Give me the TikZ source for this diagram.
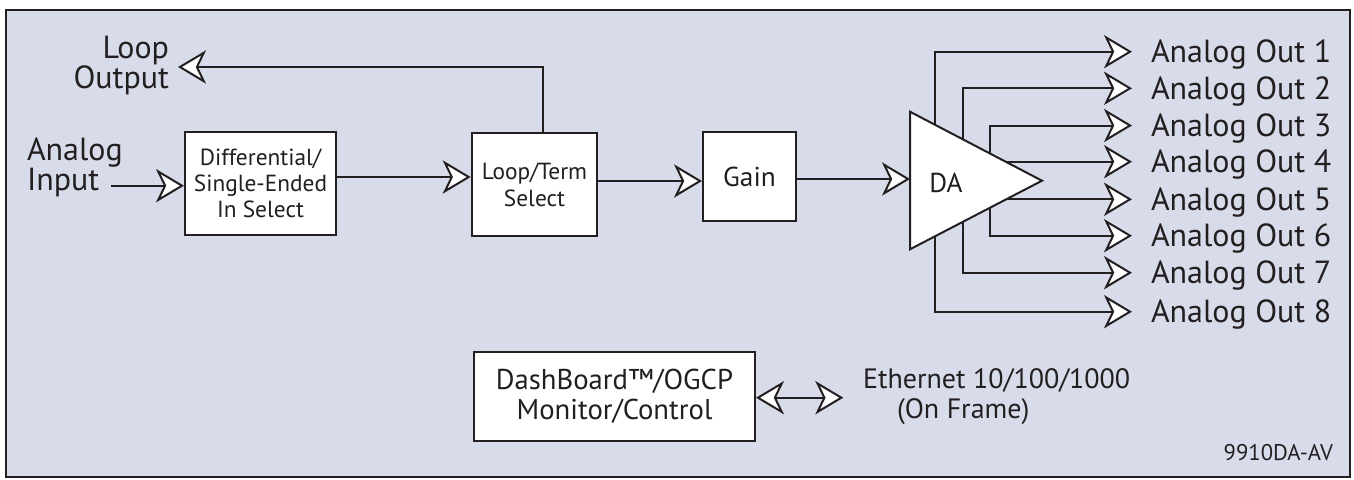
\documentclass[tikz,border=0pt]{standalone}
\usepackage{fontspec}
\setmainfont{PT Sans}
\usetikzlibrary{arrows.meta}
\definecolor{bg}{RGB}{216,220,234}
\definecolor{ink}{RGB}{35,31,32}
\begin{document}
\begin{tikzpicture}[x=0.75pt,y=-0.75pt,
  line width=1.5pt, color=ink,
  >={Stealth[length=21pt,width=25pt,inset=6pt,fill=white]},
  box/.style={draw=ink, fill=white, line width=1.5pt, inner sep=0pt, align=center},
  lbl/.style={inner sep=0pt, font=\fontsize{24}{22.5}\selectfont},
  boxtxt/.style={font=\fontsize{17.5}{19.5}\selectfont},
  mid/.style={font=\fontsize{20.5}{22}\selectfont},
  small/.style={inner sep=0pt, font=\fontsize{21}{22.5}\selectfont}]
\useasboundingbox (0,0) rectangle (1354,479);
\draw[fill=bg, line width=2pt] (6,10) rectangle (1350,477);

% helper levels
\coordinate (y177) at (0,177);
\coordinate (y181) at (0,181);
\coordinate (y179) at (0,179);
\coordinate (y397) at (0,397.7);
\coordinate (lox) at (542.7,0);

% boxes
\node[box, boxtxt, minimum width=113.25pt, minimum height=77.25pt] (diff) at (260.5,183.5) {Differential/\\Single-Ended\\In Select};
\node[box, minimum width=94.2pt, minimum height=77.5pt, font=\fontsize{17.5}{20.25}\selectfont] (loop) at (534.5,184.35) {Loop/Term\\Select};
\node[box, mid, minimum width=69.75pt, minimum height=66.75pt] (gain) at (749.5,176.5) {Gain};
\node[box, minimum width=210.75pt, minimum height=66.75pt, font=\fontsize{21.5}{22.5}\selectfont] (dash) at (614.5,396.5) {DashBoard™/OGCP\\Monitor/Control};

% labels
\node[lbl, align=right, anchor=base east] (lout) at (170,88.3) {Loop\\Output};
\node[lbl, align=left, anchor=base west] (ain) at (26,190) {Analog\\Input};

% input chain
\coordinate (ainS) at (111,185.7);
\draw[->] (ainS) -- (diff.west |- ainS);
\draw[->] (diff.east |- y177) -- (loop.west |- y177);
\draw[->] (loop.east |- y181) -- (gain.west |- y181);
\coordinate (lotip) at (178,67);
\draw[->] (loop.north -| lox) |- (lotip);

% DA outputs
\foreach \y/\x [count=\i] in {51.7/935,88.3/962.7,125.5/990,161.7/1000,199.3/1000,235.7/990,272.7/962.7,311.7/935} {
  \coordinate (o\i) at (1132,\y);
  \draw[->] (\x,180) |- (o\i);
  \node[lbl, anchor=base west] (t\i) at (1150,\y+11) {Analog Out \i};
}

% DA triangle
\coordinate (datl) at (910,111.7);
\coordinate (dabl) at (910,249.3);
\coordinate (datip) at (1042,180.7);
\coordinate (dain) at (910,179);
\draw[fill=white] (datl) -- (datip) -- (dabl) -- cycle;
\node[mid] (da) at (946,183) {DA};
\draw[->] (gain.east |- y179) -- (dain);

% ethernet
\coordinate (etip) at (843.3,397.7);
\draw[<->] (dash.east |- y397) -- (etip);
\node[small, align=left, anchor=base west] (eth) at (862,418) {Ethernet 10/100/1000\\\hspace*{25.5pt}(On Frame)};
\node[inner sep=0pt, anchor=base east, font=\fontsize{17}{20}\selectfont] (code) at (1334,460) {9910DA-AV};
\end{tikzpicture}
\end{document}
